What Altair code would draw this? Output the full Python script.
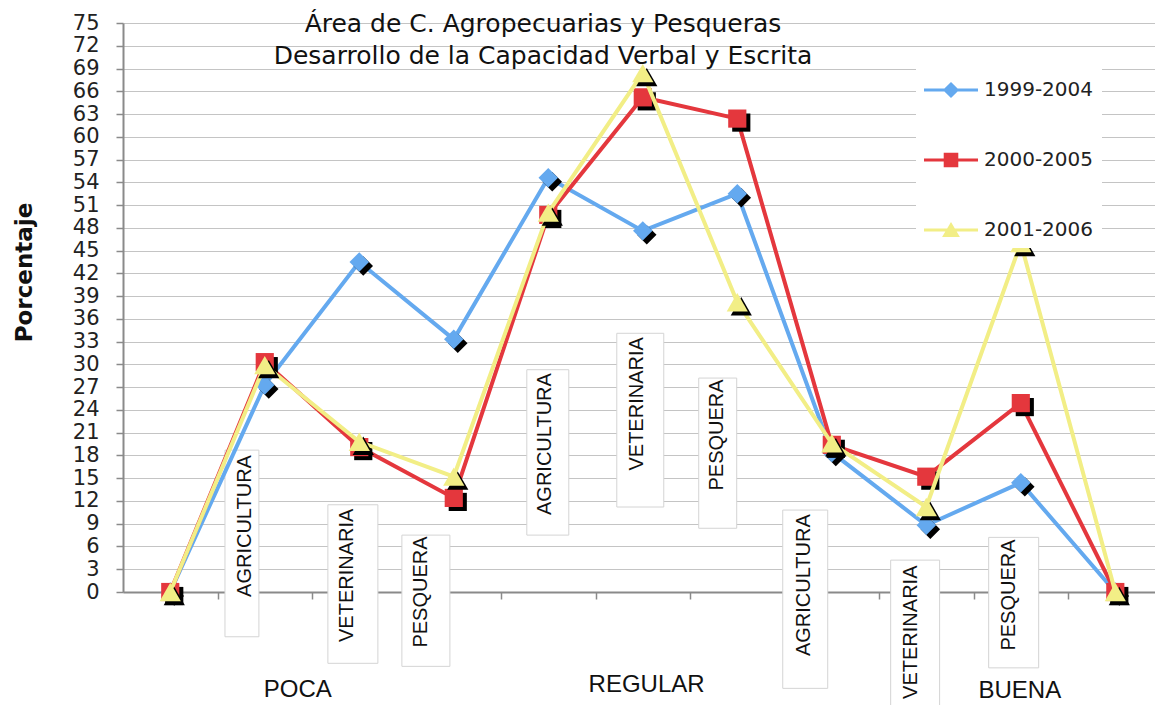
import altair as alt
import pandas as pd

# ---------------- data ----------------
posiciones = list(range(11))
serie_1999 = [0, 27.3, 43.5, 33.3, 54.6, 47.6, 52.5, 18.4, 8.8, 14.4, 0]
serie_2000 = [0, 30.3, 19.1, 12.4, 49.7, 65.2, 62.4, 19.4, 15.2, 24.9, 0]
serie_2001 = [0, 29.9, 19.8, 15.2, 50.0, 68.4, 38.2, 19.6, 11.2, 46.0, 0]
nombres = ["1999-2004", "2000-2005", "2001-2006"]

carreras = ["AGRICULTURA", "VETERINARIA", "PESQUERA"] * 3
niveles = ["POCA", "REGULAR", "BUENA"]

y_ticks = list(range(0, 76, 3))
x_ticks = [i + 0.5 for i in range(10)]

# annotation placement (data units)
carrera_x = [0.79, 1.875, 2.657, 3.963, 4.937, 5.783, 6.703, 7.835, 8.872]
carrera_y = [8.7, 2.2, 0.0, 19.5, 24.8, 20.7, 0.9, -5.3, -0.4]
caja_x1 = [0.579, 1.668, 2.451, 3.773, 4.725, 5.592, 6.481, 7.623, 8.660]
caja_x2 = [0.938, 2.197, 2.959, 4.217, 5.222, 5.994, 6.957, 8.141, 9.189]
caja_y1 = [18.7, 11.5, 7.5, 29.3, 34.1, 28.2, 10.8, 4.2, 7.2]
caja_y2 = [-5.9, -9.4, -9.8, 7.5, 11.2, 8.4, -12.7, -16.3, -10.0]
nivel_x = [1.35, 5.04, 8.99]
nivel_y = [-12.9, -12.3, -13.1]

# ---------------- styles ----------------
colores = ["#64a9ef", "#e4373d", "#f2ee86"]
formas = ["diamond", "square", "triangle-up"]
tamanos = [380, 330, 450]
stub = "M-1,-0.06H1V0.06H-1Z"
formas_leyenda = [
    stub + "M0,-0.3L0.3,0L0,0.3L-0.3,0Z",
    stub + "M-0.27,-0.27H0.27V0.27H-0.27Z",
    stub + "M0,-0.3L0.33,0.26H-0.33Z",
]

rows = []
for nombre, vals in zip(nombres, [serie_1999, serie_2000, serie_2001]):
    for p, v in zip(posiciones, vals):
        rows.append({"serie": nombre, "pos": p, "valor": v})
df = pd.DataFrame(rows)

df_cat = pd.DataFrame({
    "carrera": carreras, "tx": carrera_x, "ty": carrera_y,
    "bx1": caja_x1, "bx2": caja_x2, "by1": caja_y1, "by2": caja_y2,
})
df_niv = pd.DataFrame({"nivel": niveles, "nx": nivel_x, "ny": nivel_y})

xs = alt.Scale(domain=[-0.5, 10.42], nice=False, zero=False)
ys = alt.Scale(domain=[0, 75], nice=False, zero=False)
x_axis = alt.Axis(values=x_ticks, labels=False, title=None, grid=False, tickSize=7,
                  tickColor="#8a8a8a", tickWidth=1.5, domainColor="#8a8a8a", domainWidth=2)
y_axis = alt.Axis(values=y_ticks, title="Porcentaje", grid=True, gridColor="#c4c4c4", gridWidth=1,
                  tickSize=7, tickColor="#8a8a8a", tickWidth=1.5, domainColor="#8a8a8a", domainWidth=2,
                  labelPadding=17, labelFontSize=21, labelFont="DejaVu Sans", labelColor="#222222",
                  labelOverlap=False,
                  titleFont="DejaVu Sans", titleFontSize=23, titleFontWeight="bold", titleColor="#111111",
                  titleAngle=270, titleX=-99, titleY=249, titleAlign="center", titleBaseline="middle")


def X(f):
    return alt.X(f, type="quantitative", scale=xs, axis=x_axis)


def Y(f):
    return alt.Y(f, type="quantitative", scale=ys, axis=y_axis)


cajas = alt.Chart(df_cat).mark_rect(fill="white", stroke="#d4d4d4", strokeWidth=1).encode(
    x=X("bx1"), x2="bx2", y=Y("by1"), y2="by2")

textos = alt.Chart(df_cat).mark_text(angle=270, font="Liberation Sans", fontSize=20, color="#111111",
                                     align="center", baseline="middle").encode(
    x=X("tx"), y=Y("ty"), text="carrera:N")

niveles_txt = alt.Chart(df_niv).mark_text(font="Liberation Sans", fontSize=24, color="#111111",
                                          align="center", baseline="middle").encode(
    x=X("nx"), y=Y("ny"), text="nivel:N")

capas = []
for i, nombre in enumerate(nombres):
    base = alt.Chart(df).transform_filter(alt.datum.serie == nombre)
    capas.append(base.mark_line(color=colores[i], strokeWidth=4).encode(x=X("pos"), y=Y("valor")))
    capas.append(base.mark_point(shape=formas[i], size=tamanos[i], filled=True, color="black",
                                 opacity=1, xOffset=4, yOffset=4).encode(x=X("pos"), y=Y("valor")))
    capas.append(base.mark_point(shape=formas[i], size=tamanos[i], filled=True, color=colores[i],
                                 opacity=1).encode(x=X("pos"), y=Y("valor")))

leyenda = alt.Legend(orient="none", legendX=793, legendY=32, title=None, fillColor="white",
                     padding=8, symbolSize=2916, symbolStrokeWidth=0, symbolOpacity=1,
                     labelFontSize=20, labelFont="DejaVu Sans", labelColor="#222222",
                     labelOffset=6, rowPadding=33)

capa_leyenda = alt.Chart(df).transform_filter("false").mark_point(filled=True).encode(
    x=X("pos"), y=Y("valor"),
    fill=alt.Fill("serie:N", scale=alt.Scale(domain=nombres, range=colores), legend=leyenda),
    shape=alt.Shape("serie:N", scale=alt.Scale(domain=nombres, range=formas_leyenda), legend=leyenda),
)

chart = alt.layer(cajas, textos, niveles_txt, *capas, capa_leyenda).properties(
    width=1032, height=569,
    padding={"left": 115, "top": 15, "right": 0, "bottom": 113},
    autosize=alt.AutoSizeParams(type="none"),
    background="white",
    title=alt.TitleParams(
        text=["Área de C. Agropecuarias y Pesqueras", "Desarrollo de la Capacidad Verbal y Escrita"],
        font="DejaVu Sans", fontSize=25, fontWeight="normal", color="#111111",
        anchor="middle", frame="group", dx=-96, dy=57, offset=0, lineHeight=32, baseline="top"),
).configure_view(strokeWidth=0)

chart.save("out.html", embed_options={"renderer": "svg", "actions": False})
